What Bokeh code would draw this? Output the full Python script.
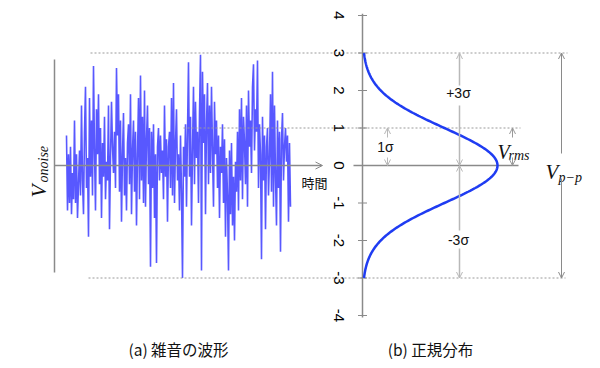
import numpy as np
from bokeh.plotting import figure
from bokeh.models import Range1d, Arrow, OpenHead
from bokeh.core.properties import value
from bokeh.embed import file_html
from bokeh.resources import INLINE

# ---------------- data ----------------
noise = [
    0.8, -1.2, 0.3, -1.0, 0.5, -1.3, -0.2, -0.9, 1.2, -1.0, 0.3, -1.4, -0.5, 0.4, -0.8,
    1.6, -0.4, -1.3, 0.9, 2.1, -0.6, 0.2, -1.9, 1.8, -0.3, 1.2, -0.8, 2.65, 0.4, -1.2,
    1.5, 0.3, 1.9, -0.5, 1.0, -1.4, 0.6, -0.3, 1.3, -0.9, 0.1, -0.4, 1.6, -1.7, 0.2,
    1.7, 0.5, -0.2, 0.9, -0.6, 2.6, 0.8, 1.9, -0.7, 1.2, -1.5, 0.3, 1.4, -0.8, 0.2,
    -1.2, 0.6, 1.1, -0.5, 1.9, -1.3, 0.4, 1.2, -0.7, 0.9, -1.6, 0.3, 1.8, -0.9, 2.4,
    -0.4, 1.3, -1.0, 2.0, -1.1, 0.7, 1.6, -0.5, 1.0, -2.7, 0.9, -0.6, 1.1, -1.4, 0.3,
    -2.6, 0.5, 1.0, -0.4, 0.8, -0.2, 0.4, -0.9, 1.6, -0.3, 0.7, -1.5, 0.5, 0.9, -0.6,
    1.8, -0.8, 2.2, -1.0, 0.6, 1.5, -0.4, 0.3, -1.2, 0.8, -0.7, -3.0, 0.5, -0.3, 1.1,
    -1.1, 0.9, 2.75, -0.3, 1.3, -1.6, 0.4, 2.1, -0.5, 1.7, 0.2, 0.9, -1.0, 1.4, 2.95,
    -2.8, 2.5, 0.6, 1.9, -1.3, 1.1, 2.2, -0.5, 1.6, -0.2, 2.1, 0.4, -1.1, 1.7, 0.3,
    1.2, -0.6, 0.8, -1.4, 0.5, -0.2, 1.1, -1.0, 0.7, -1.9, 0.2, -0.8, -2.8, 0.4, -1.3,
    0.6, -1.6, -0.3, -2.0, 0.1, -0.7, 0.9, -1.2, 1.5, -0.4, 1.8, -0.9, 1.3, 0.6, -0.5,
    1.6, -1.1, 2.0, 0.5, 1.2, -0.2, 2.1, 2.7, 0.4, 1.5, 0.9, 2.8, -0.6, 1.1, 0.3,
    -2.5, 1.3, -0.4, 0.8, -1.7, 0.5, 1.0, -0.8, 0.2, 1.9, -0.7, 2.5, -1.1, 1.6, -0.3,
    -1.6, 1.2, -0.6, 0.9, -2.3, 0.7, 1.4, -0.4, 0.5, 1.0, 0.1, 0.8, -1.5, 0.6, -1.1,
]
tick_values = [4, 3, 2, 1, 0, -1, -2, -3, -4]
tick_labels = ["4", "3", "2", "1", "0", "-1", "-2", "-3", "-4"]
sigma = 1.0
ref_levels = [3, 1, -3]
caption_a = "(a) 雑音の波形"
caption_b = "(b) 正規分布"

# ---------------- layout (x in page pixels, y in signal units) ----------------
W, H = 600, 368
OFF = 0              # observed page offset of the plot
UNIT = 37.5          # pixels per signal unit
Y0_PAGE = 165        # page y of signal zero
ytop = (Y0_PAGE - OFF) / UNIT
ybot = ytop - H / UNIT

def vy(py):
    return (Y0_PAGE - py) / UNIT

p = figure(width=W, height=H, output_backend="svg", toolbar_location=None,
           x_range=Range1d(OFF, OFF + W), y_range=Range1d(ybot, ytop), min_border=0)
p.axis.visible = False
p.xgrid.visible = False
p.ygrid.visible = False
p.outline_line_color = None
p.background_fill_color = "white"

AX = "#8a8a8a"
LG = "#b8b8b8"
DOT = "#9a9a9a"
TXT = "#111111"
JP = value("Noto Sans CJK JP")
SERIF = value("Liberation Serif")
SANS = value("Liberation Sans")

# ---- left panel: noise waveform ----
nx = np.linspace(66, 290, len(noise))
p.line(nx, noise, line_color="#4a4aff", line_width=1.6, line_alpha=0.92)

# left vertical axis and time axis
p.segment(x0=[54], y0=[vy(59)], x1=[54], y1=[vy(272)], line_color=AX, line_width=1.5)
p.add_layout(Arrow(end=OpenHead(size=7, line_color=AX, line_width=1),
                   x_start=54, y_start=0, x_end=322, y_end=0,
                   line_color=AX, line_width=1.5))
p.text(x=[314], y=[vy(182)], text=["時間"], text_font=JP, text_font_size="13px",
       text_align="center", text_baseline="middle", text_color=TXT)

# V_onoise (rotated)
p.text(x=[38], y=[vy(197)], text=["V"], angle=np.pi / 2, text_font=SERIF,
       text_font_style="italic", text_font_size="21px", text_align="left",
       text_baseline="alphabetic", text_color=TXT)
p.text(x=[43], y=[vy(182)], text=["onoise"], angle=np.pi / 2, text_font=SERIF,
       text_font_style="italic", text_font_size="14px", text_align="left",
       text_baseline="alphabetic", text_color=TXT)

# ---- reference dotted lines ----
dot_x0 = [90, 183, 88]
dot_x1 = [567, 520, 565]
p.segment(x0=dot_x0, y0=ref_levels, x1=dot_x1, y1=ref_levels,
          line_color=DOT, line_width=1, line_dash="2 2")

# ---- right panel: central axis with ticks ----
AXX = 362
p.segment(x0=[AXX], y0=[4.05], x1=[AXX], y1=[-4.05], line_color=AX, line_width=1.5)
p.segment(x0=[AXX - 4.5] * len(tick_values), y0=tick_values,
          x1=[AXX + 4.5] * len(tick_values), y1=tick_values,
          line_color=AX, line_width=1)
p.text(x=[338] * len(tick_values), y=tick_values, text=tick_labels,
       angle=[1.5 * np.pi] * len(tick_values), angle_units="rad",
       text_font=SANS, text_font_size="15px",
       text_align="center", text_baseline="middle", text_color="#000000")

# zero line of right panel
p.segment(x0=[353], y0=[0], x1=[518], y1=[0], line_color=AX, line_width=1.5)

# gaussian distribution (rotated)
gy = np.linspace(-3, 3, 241)
gx = AXX + 135 * np.exp(-(gy / sigma) ** 2 / 2)
p.line(gx, gy, line_color="#1f3cf2", line_width=2.5)

def arrow(x, y0, y1, color, w=1):
    p.add_layout(Arrow(end=OpenHead(size=6, line_color=color, line_width=1),
                       x_start=x, y_start=y0, x_end=x, y_end=y1,
                       line_color=color, line_width=w))

# +3σ / -3σ
arrow(459, vy(85), 3, LG, 1.5)
arrow(459, vy(105), 0, LG, 1.5)
arrow(459, vy(230), 0, LG, 1.5)
arrow(459, vy(248), -3, LG, 1.5)
p.text(x=[458, 458], y=[vy(92), vy(239)], text=["+3σ", "-3σ"],
       text_font=SANS, text_font_size="14px",
       text_align="center", text_baseline="middle", text_color=TXT)

# 1σ
arrow(387, vy(137), 1, LG)
arrow(387, vy(157), 0, LG)
p.text(x=[385], y=[vy(146)], text=["1σ"], text_font=SANS,
       text_font_size="14px", text_align="center", text_baseline="middle", text_color=TXT)

# V_rms
arrow(512, vy(137), 1, "#999999")
arrow(512, vy(157), 0, "#999999")
p.text(x=[497], y=[vy(151)], text=["V"], text_font=SERIF, text_font_style="italic",
       text_font_size="20px", text_align="left", text_baseline="alphabetic", text_color=TXT)
p.text(x=[508], y=[vy(155)], text=["rms"], text_font=SERIF, text_font_style="italic",
       text_font_size="14px", text_align="left", text_baseline="alphabetic", text_color=TXT)

# V_p-p
arrow(561, vy(153), 3, AX)
arrow(561, vy(178), -3, AX)
p.text(x=[545], y=[vy(171)], text=["V"], text_font=SERIF, text_font_style="italic",
       text_font_size="21px", text_align="left", text_baseline="alphabetic", text_color=TXT)
p.text(x=[558], y=[vy(177)], text=["p−p"], text_font=SERIF, text_font_style="italic",
       text_font_size="14px", text_align="left", text_baseline="alphabetic", text_color=TXT)

# captions
p.text(x=[178, 430], y=[vy(348), vy(348)], text=[caption_a, caption_b], text_font=JP,
       text_font_size="15.5px", text_align="center", text_baseline="middle", text_color=TXT)

open("out.html", "w").write(file_html(p, INLINE))
